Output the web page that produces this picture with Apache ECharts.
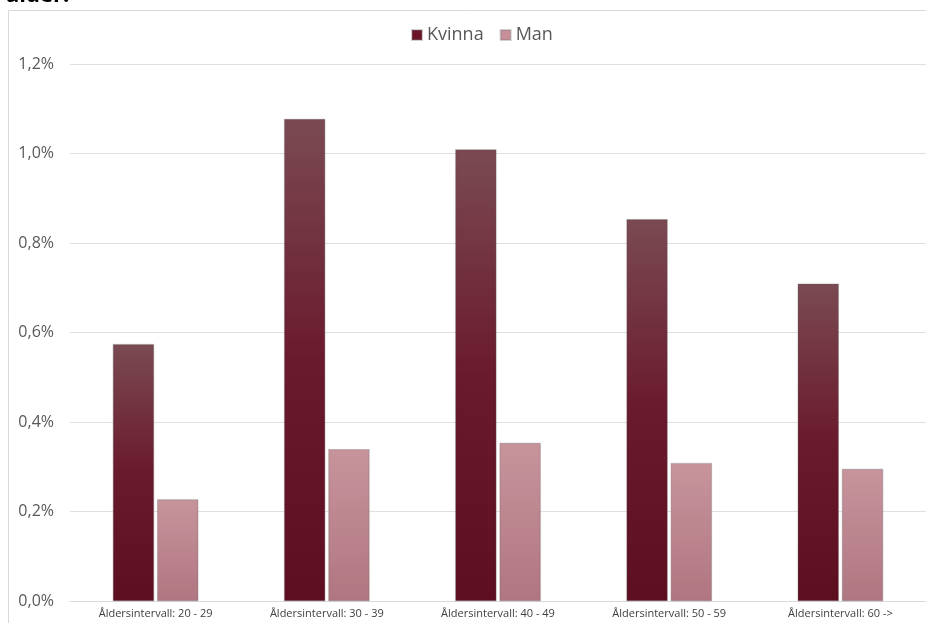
<!DOCTYPE html>
<html>
<head>
<meta charset="utf-8">
<script src="https://cdn.jsdelivr.net/npm/echarts@6/dist/echarts.min.js"></script>
<style>
  html, body { margin: 0; padding: 0; background: #ffffff; }
  #chart { width: 926px; height: 623px; }
</style>
</head>
<body>
<div id="chart"></div>
<script>
// Andel per åldersintervall, uppdelat på kön (procent)
var categories = [
  'Åldersintervall: 20 - 29',
  'Åldersintervall: 30 - 39',
  'Åldersintervall: 40 - 49',
  'Åldersintervall: 50 - 59',
  'Åldersintervall: 60 ->'
];
var kvinna = [0.574, 1.077, 1.009, 0.853, 0.709];
var man = [0.227, 0.339, 0.353, 0.308, 0.295];
var yTicks = [0, 0.2, 0.4, 0.6, 0.8, 1.0, 1.2];

var fontFamily = '"Open Sans", Roboto, sans-serif';

var chart = echarts.init(document.getElementById('chart'), null, { renderer: 'canvas' });

chart.setOption({
  animation: false,
  backgroundColor: '#ffffff',
  textStyle: { fontFamily: fontFamily },
  graphic: [
    {
      type: 'rect',
      silent: true,
      shape: { x: 8.5, y: 10.5, width: 940, height: 640 },
      style: { fill: 'none', stroke: '#d9d9d9', lineWidth: 1 }
    },
    {
      type: 'text',
      silent: true,
      x: 6,
      y: 7,
      style: {
        text: 'ålder:',
        font: 'bold 22px ' + fontFamily,
        fill: '#000000',
        verticalAlign: 'bottom'
      }
    }
  ],
  legend: {
    data: ['Kvinna', 'Man'],
    top: 21,
    left: 406,
    itemWidth: 10,
    itemHeight: 10,
    itemGap: 16,
    icon: 'rect',
    textStyle: { fontSize: 18, color: '#595959', fontFamily: fontFamily }
  },
  grid: {
    left: 70,
    right: 0,
    top: 64,
    bottom: 22,
    containLabel: false
  },
  xAxis: {
    type: 'category',
    data: categories,
    axisLine: { lineStyle: { color: '#d9d9d9', width: 1 } },
    axisTick: { show: false },
    axisLabel: { fontSize: 11, color: '#404040', margin: 7, interval: 0, fontFamily: fontFamily }
  },
  yAxis: {
    type: 'value',
    min: yTicks[0],
    max: yTicks[yTicks.length - 1],
    interval: 0.2,
    axisLine: { show: false },
    axisTick: { show: false },
    splitLine: { lineStyle: { color: '#e0e0e0', width: 1 } },
    axisLabel: {
      fontSize: 16,
      color: '#595959',
      margin: 16,
      fontFamily: fontFamily,
      formatter: function (v) { return v.toFixed(1).replace('.', ',') + '%'; }
    }
  },
  series: [
    {
      name: 'Kvinna',
      type: 'bar',
      data: kvinna,
      barWidth: 41,
      barGap: '8%',
      itemStyle: {
        color: new echarts.graphic.LinearGradient(0, 0, 0, 1, [
          { offset: 0, color: '#7a4a52' },
          { offset: 0.5, color: '#6a1a2d' },
          { offset: 1, color: '#5e0e21' }
        ]),
        borderColor: 'rgba(120,120,120,0.35)',
        borderWidth: 0.5,
        shadowColor: 'rgba(0,0,0,0.25)',
        shadowBlur: 2
      }
    },
    {
      name: 'Man',
      type: 'bar',
      data: man,
      barWidth: 41,
      itemStyle: {
        color: new echarts.graphic.LinearGradient(0, 0, 0, 1, [
          { offset: 0, color: '#c7949c' },
          { offset: 1, color: '#b07681' }
        ]),
        borderColor: 'rgba(120,120,120,0.35)',
        borderWidth: 0.5,
        shadowColor: 'rgba(0,0,0,0.25)',
        shadowBlur: 2
      }
    }
  ]
});
chart.setOption({
  legend: {
    data: [
      { name: 'Kvinna', itemStyle: { color: '#6b1428' } },
      { name: 'Man', itemStyle: { color: '#c98f99' } }
    ]
  }
});
</script>
</body>
</html>
